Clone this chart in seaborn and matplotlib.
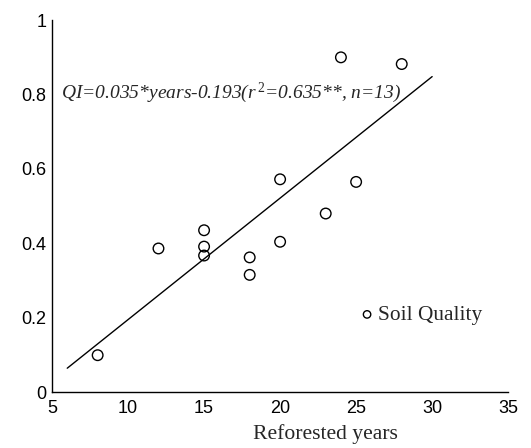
import numpy as np
import pandas as pd
import matplotlib
matplotlib.use("Agg")
import matplotlib.pyplot as plt
import seaborn as sns

# data
years = [8, 12, 15, 15, 15, 18, 18, 20, 20, 23, 24, 25, 28]
quality = [0.099, 0.386, 0.435, 0.391, 0.367, 0.362, 0.315, 0.572, 0.404, 0.480, 0.900, 0.565, 0.882]
fit_range = [6, 30]
equation = "QI=0.035*years-0.193($r^{\\,2}$=0.635**, n=13)"
x_ticks = [5, 10, 15, 20, 25, 30, 35]
y_ticks = [0, 0.2, 0.4, 0.6, 0.8, 1.0]
y_ticklabels = ["0", "0.2", "0.4", "0.6", "0.8", "1"]

df = pd.DataFrame({"Reforested years": years, "Soil Quality": quality})

sns.set_style("white")
plt.rcParams["font.family"] = ["Liberation Sans", "DejaVu Sans"]
plt.rcParams["mathtext.fontset"] = "custom"
plt.rcParams["mathtext.it"] = "Liberation Serif:italic"
plt.rcParams["mathtext.rm"] = "Liberation Serif"

fig = plt.figure(figsize=(5.31, 4.48), dpi=100)
ax = fig.add_axes([0.098, 0.125, 0.859, 0.830])

sns.scatterplot(data=df, x="Reforested years", y="Soil Quality", ax=ax,
                marker="o", s=58, facecolor="none", edgecolor="black",
                linewidth=1.0, label="Soil Quality")

# least squares line drawn across the fit range
slope, intercept = np.polyfit(years, quality, 1)
xs = np.array(fit_range, dtype=float)
ax.plot(xs, slope * xs + intercept, color="black", linewidth=1.0)

ax.text(5.6, 0.805, equation, fontsize=14, family="Liberation Serif",
        style="italic", va="center", ha="left")

ax.set_xlim(5, 35)
ax.set_ylim(0, 1)
ax.set_xticks(x_ticks)
ax.set_yticks(y_ticks)
ax.set_yticklabels(y_ticklabels)
ax.tick_params(direction="in", length=4.5, width=1, labelsize=13, colors="black", pad=4)
ax.tick_params(axis="x", pad=6)
ax.set_xlabel("Reforested years", family="Liberation Serif", fontsize=15.6)
ax.xaxis.set_label_coords(0.599, -0.085)
ax.set_ylabel("")
for s in ["top", "right"]:
    ax.spines[s].set_visible(False)
for s in ["left", "bottom"]:
    ax.spines[s].set_color("black")
    ax.spines[s].set_linewidth(1.0)

leg = ax.legend(loc="center left", bbox_to_anchor=(0.625, 0.207), frameon=False,
                markerscale=0.7, handletextpad=0.0, handlelength=1.0,
                prop={"family": "Liberation Serif", "size": 15.4})

fig.savefig("out.png", dpi=100)
